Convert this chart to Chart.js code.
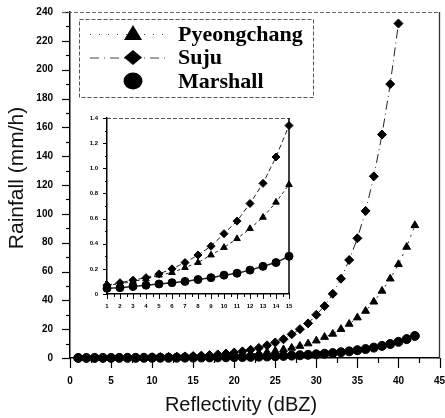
<!DOCTYPE html>
<html>
<head>
<meta charset="utf-8">
<script src="https://cdn.jsdelivr.net/npm/chart.js@4.4.0/dist/chart.umd.min.js"></script>
<style>
  html, body { margin: 0; padding: 0; background: #fff; }
  #wrap { position: relative; width: 445px; height: 418px; }
  #mainChart { position: absolute; left: 0; top: 0; }
  #insetChart { position: absolute; left: 78px; top: 110px; }
</style>
</head>
<body>
<div id="wrap">
  <canvas id="mainChart" width="445" height="418"></canvas>
  <canvas id="insetChart" width="218" height="200"></canvas>
</div>
<script>
// reflectivity (dBZ) and rainfall (mm/h)
const reflectivity = [1, 2, 3, 4, 5, 6, 7, 8, 9, 10, 11, 12, 13, 14, 15, 16, 17, 18, 19, 20, 21,
    22, 23, 24, 25, 26, 27, 28, 29, 30, 31, 32, 33, 34, 35, 36, 37, 38, 39, 40, 41, 42];

const pyeongchang = [0.07, 0.08, 0.10, 0.12, 0.15, 0.17, 0.21, 0.25, 0.31, 0.37, 0.44, 0.52, 0.61, 0.73, 0.87,
    1.03, 1.22, 1.45, 1.72, 2.05, 2.4, 2.9, 3.4, 4.1, 4.9, 5.9, 7.0, 8.3, 10, 12, 14.5, 16.7, 20, 23.6, 28,
    32.6, 39, 46.5, 55, 65, 77, 92];

const suju = [0.07, 0.09, 0.11, 0.13, 0.16, 0.20, 0.25, 0.31, 0.38, 0.48, 0.58, 0.72, 0.88, 1.09, 1.34,
    1.65, 2.0, 2.5, 3.1, 3.8, 4.6, 5.7, 7.0, 8.8, 10.8, 13, 16.4, 20, 24, 30, 36, 44.5, 55, 68, 83,
    102, 126, 155, 190, 232];

const marshall = [0.045, 0.05, 0.06, 0.07, 0.08, 0.09, 0.10, 0.115, 0.13, 0.15, 0.165, 0.19, 0.22, 0.25, 0.30,
    0.34, 0.39, 0.45, 0.52, 0.6, 0.7, 0.8, 0.93, 1.07, 1.24, 1.43, 1.65, 1.9, 2.2, 2.55, 2.95, 3.4, 4.0,
    4.6, 5.4, 6.2, 7.2, 8.4, 9.7, 11.2, 13.1, 15.3];

const mainXTicks = [0, 5, 10, 15, 20, 25, 30, 35, 40, 45];
const mainYTicks = [0, 20, 40, 60, 80, 100, 120, 140, 160, 180, 200, 220, 240];
const insetXTicks = [1, 2, 3, 4, 5, 6, 7, 8, 9, 10, 11, 12, 13, 14, 15];
const insetYTicks = [0, 0.2, 0.4, 0.6, 0.8, 1, 1.2, 1.4];

const seriesNames = ["Pyeongchang", "Suju", "Marshall"];

function points(values, maxX) {
    const out = [];
    values.forEach((v, i) => {
        if (reflectivity[i] <= maxX) out.push({ x: reflectivity[i], y: v });
    });
    return out;
}

// ------------------------------
// small drawing helpers
// ------------------------------
function shape(ctx, kind, x, y, w, h) {
    ctx.beginPath();
    if (kind === "triangle") {
        ctx.moveTo(x, y - h * 0.6);
        ctx.lineTo(x + w / 2, y + h * 0.4);
        ctx.lineTo(x - w / 2, y + h * 0.4);
    } else if (kind === "diamond") {
        ctx.moveTo(x, y - h / 2);
        ctx.lineTo(x + w / 2, y);
        ctx.lineTo(x, y + h / 2);
        ctx.lineTo(x - w / 2, y);
    } else {
        ctx.ellipse(x, y, w / 2, h / 2, 0, 0, Math.PI * 2);
    }
    ctx.closePath();
    ctx.fill();
}

// ticks drawn outside the axes, long at major values, short at minor
const outTicks = {
    id: "outTicks",
    beforeDatasetsDraw(chart, args, opts) {
        const ctx = chart.ctx;
        const { left, bottom } = chart.chartArea;
        ctx.save();
        ctx.strokeStyle = "#000";
        ctx.lineWidth = opts.width;
        ["x", "y"].forEach(id => {
            const s = chart.scales[id];
            const c = opts[id];
            for (let v = s.min; v <= s.max + 1e-9; v += c.minor) {
                const r = v / c.major;
                const major = Math.abs(r - Math.round(r)) < 1e-6;
                const len = major ? c.majLen : c.minLen;
                const p = Math.round(s.getPixelForValue(v)) + 0.5;
                ctx.beginPath();
                if (id === "x") { ctx.moveTo(p, bottom); ctx.lineTo(p, bottom + len); }
                else { ctx.moveTo(left, p); ctx.lineTo(left - len, p); }
                ctx.stroke();
            }
        });
        ctx.restore();
    }
};

// dashed top edge and solid right edge of the plot box
const frame = {
    id: "frame",
    beforeDraw(chart, args, opts) {
        const ctx = chart.ctx;
        if (opts.background) {
            ctx.save();
            ctx.fillStyle = opts.background;
            ctx.fillRect(0, 0, chart.width, chart.height);
            ctx.restore();
        }
    },
    afterDraw(chart, args, opts) {
        const ctx = chart.ctx;
        const { left, right, top, bottom } = chart.chartArea;
        ctx.save();
        ctx.strokeStyle = opts.topColor;
        ctx.lineWidth = 1;
        ctx.setLineDash([4, 2]);
        ctx.beginPath();
        ctx.moveTo(left - opts.topExtend, top + 0.5);
        ctx.lineTo(right, top + 0.5);
        ctx.stroke();
        ctx.setLineDash([]);
        ctx.strokeStyle = opts.rightColor;
        ctx.lineWidth = opts.rightWidth;
        ctx.beginPath();
        ctx.moveTo(right, top);
        ctx.lineTo(right, bottom);
        ctx.stroke();
        ctx.restore();
    }
};

// legend box and axis titles of the main plot
const mainDecor = {
    id: "mainDecor",
    afterDraw(chart) {
        const ctx = chart.ctx;
        ctx.save();

        // legend
        ctx.strokeStyle = "#555";
        ctx.lineWidth = 1;
        ctx.setLineDash([4, 2]);
        ctx.strokeRect(79.5, 19.5, 234, 78);
        ctx.setLineDash([]);

        const kinds = ["triangle", "diamond", "circle"];
        const dashes = [[1, 8], [9, 5, 1, 5], []];
        const sizes = [[18, 15], [18, 15], [19, 17]];
        seriesNames.forEach((name, i) => {
            const cy = 34 + 23.5 * i;
            if (dashes[i].length) {
                ctx.strokeStyle = "#444";
                ctx.lineWidth = 1;
                ctx.setLineDash(dashes[i]);
                ctx.beginPath();
                ctx.moveTo(90, cy + 0.5);
                ctx.lineTo(170, cy + 0.5);
                ctx.stroke();
                ctx.setLineDash([]);
            }
            ctx.fillStyle = "#000";
            shape(ctx, kinds[i], 133, cy, sizes[i][0], sizes[i][1]);
            ctx.font = "bold 22px 'Liberation Serif', 'Times New Roman', serif";
            ctx.textAlign = "left";
            ctx.textBaseline = "alphabetic";
            ctx.fillText(name, 178, cy + 6.5);
        });

        // axis titles
        ctx.fillStyle = "#111";
        ctx.textAlign = "center";
        ctx.textBaseline = "middle";
        ctx.font = "20px 'Liberation Sans', Arial, sans-serif";
        ctx.fillText("Reflectivity (dBZ)", 241, 405);
        ctx.translate(17, 178);
        ctx.rotate(-Math.PI / 2);
        ctx.font = "21px 'Liberation Sans', Arial, sans-serif";
        ctx.fillText("Rainfall (mm/h)", 0, 0);
        ctx.restore();
    }
};

function dataset(label, data, style, dash, r, lw, order) {
    return {
        label, data, order,
        showLine: true,
        borderColor: "#222",
        borderWidth: lw,
        borderDash: dash,
        backgroundColor: "#000",
        pointStyle: style,
        pointRadius: r,
        pointBackgroundColor: "#000",
        pointBorderColor: "#000",
        pointBorderWidth: 1,
        clip: false
    };
}

function scaleOpts(min, max, tickList, fontSize, tickLen, pad, fixed, isX) {
    return {
        type: "linear",
        min, max,
        afterBuildTicks: s => { s.ticks = tickList.map(v => ({ value: v })); },
        afterFit: s => {
            if (isX) s.height = fixed; else s.width = fixed;
            // let the layout padding alone decide where the plot box ends
            s.paddingLeft = 0; s.paddingRight = 0; s.paddingTop = 0; s.paddingBottom = 0;
        },
        grid: { drawOnChartArea: false, tickLength: tickLen, tickColor: "transparent" },
        border: { display: true, color: "#000", width: 1.5 },
        ticks: {
            color: "#000",
            padding: pad,
            maxRotation: 0,
            autoSkip: false,
            font: { family: "'Liberation Sans', Arial, sans-serif", size: fontSize, weight: "bold" }
        }
    };
}

Chart.defaults.animation = false;

// ===============================
// main plot
// ===============================
new Chart(document.getElementById("mainChart"), {
    type: "scatter",
    data: {
        datasets: [
            dataset(seriesNames[0], points(pyeongchang, 42), "triangle", [2, 5], 4.5, 1, 2),
            dataset(seriesNames[1], points(suju, 42), "rectRot", [9, 4, 1, 4], 4.5, 1, 1),
            dataset(seriesNames[2], points(marshall, 42), "circle", [], 4.5, 1.2, 0)
        ]
    },
    options: {
        responsive: false,
        layout: { padding: { top: 12, right: 5, left: 0, bottom: 0 } },
        plugins: {
            legend: { display: false },
            tooltip: { enabled: false },
            outTicks: {
                width: 1.2,
                x: { major: 5, minor: 2.5, majLen: 10, minLen: 5 },
                y: { major: 20, minor: 10, majLen: 8, minLen: 4 }
            },
            frame: { topColor: "#666", rightColor: "#333", rightWidth: 1.3, topExtend: 8 }
        },
        scales: {
            x: scaleOpts(0, 45, mainXTicks, 10, 11, 6, 60, true),
            y: scaleOpts(0, 240, mainYTicks, 10, 8, 9, 70, false)
        }
    },
    plugins: [outTicks, frame, mainDecor]
});

// ===============================
// inset, first 15 dBZ
// ===============================
new Chart(document.getElementById("insetChart"), {
    type: "scatter",
    data: {
        datasets: [
            dataset(seriesNames[0], points(pyeongchang, 15), "triangle", [3, 3], 3.8, 1, 2),
            dataset(seriesNames[1], points(suju, 15), "rectRot", [5, 3], 4, 1, 1),
            dataset(seriesNames[2], points(marshall, 15), "circle", [], 4, 1.5, 0)
        ]
    },
    options: {
        responsive: false,
        layout: { padding: { top: 8, right: 7, left: 0, bottom: 0 } },
        plugins: {
            legend: { display: false },
            tooltip: { enabled: false },
            outTicks: {
                width: 1,
                x: { major: 1, minor: 0.5, majLen: 5, minLen: 3 },
                y: { major: 0.2, minor: 0.1, majLen: 4, minLen: 2 }
            },
            frame: { background: "#fff", topColor: "#555", rightColor: "#000", rightWidth: 1.5, topExtend: 0 }
        },
        scales: {
            x: scaleOpts(1, 15, insetXTicks, 6, 5, 4, 16, true),
            y: scaleOpts(0, 1.4, insetYTicks, 6, 4, 5, 29, false)
        }
    },
    plugins: [outTicks, frame]
});
</script>
</body>
</html>
